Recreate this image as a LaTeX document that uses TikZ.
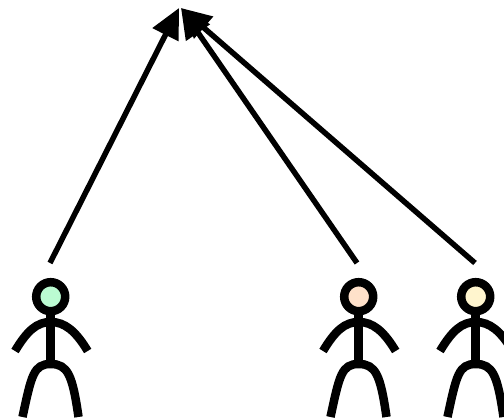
\documentclass[tikz,border=0pt]{standalone}
\usepackage{tikz}
\usetikzlibrary{arrows.meta}
\definecolor{headg}{HTML}{BBFBD2}
\definecolor{headp}{HTML}{FFE1CA}
\definecolor{heady}{HTML}{FFF5CE}
\tikzset{head/.style={draw,circle,line width=8.5pt,inner sep=0,minimum size=29pt},limb/.style={line width=8.5pt},
link/.style={line width=5.5pt,-{Triangle[length=30pt,width=28pt]}}}
\begin{document}
\begin{tikzpicture}[x=1pt,y=-1pt]
\useasboundingbox(0,0)rectangle(504,419);
\foreach\n/\x/\c in{a/50.7/headg,b/358.7/headp,c/475.7/heady}{
\node[head,fill=\c](\n)at(\x,296.7){};
\draw[limb](\n.south)--++(0,50);
\draw[limb]([shift={(-35.7,54.3)}]\n.center)..controls +(12,-20) and +(-14,0)..++(35.7,-29)..controls +(14,0) and +(-12,-20)..++(37,29);
\draw[limb]([shift={(-28.2,120.3)}]\n.center)..controls +(9,-42) and +(-17,0)..++(28.2,-53)..controls +(17,0) and +(-6,-42)..++(27.8,53);
}
\coordinate(t1)at(179,8);\coordinate(t2)at(181,8);
\coordinate(a0)at(50,263);\coordinate(b0)at(357,263);\coordinate(c0)at(475,263);
\draw[link](a0)--(t1);\draw[link](b0)--(t2);\draw[link](c0)--(t2);
\end{tikzpicture}
\end{document}
